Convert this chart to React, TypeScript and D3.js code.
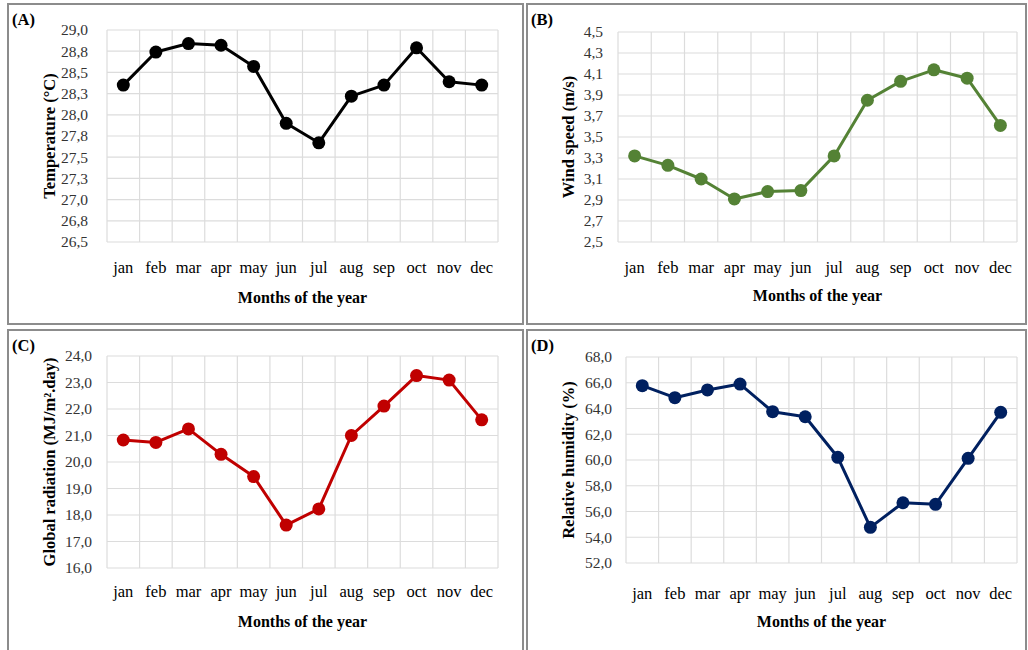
import { useEffect, useRef } from "react";
import * as d3 from "d3";

// Month categories shared by all four panels
const months = ["jan", "feb", "mar", "apr", "may", "jun", "jul", "aug", "sep", "oct", "nov", "dec"];

// Series values
const temperature = [28.35, 28.74, 28.84, 28.82, 28.57, 27.9, 27.67, 28.22, 28.35, 28.79, 28.39, 28.35];
const windSpeed = [3.32, 3.23, 3.1, 2.91, 2.98, 2.99, 3.32, 3.85, 4.03, 4.14, 4.06, 3.61];
const radiation = [20.83, 20.74, 21.25, 20.29, 19.45, 17.62, 18.23, 21.0, 22.11, 23.26, 23.09, 21.59];
const humidity = [65.77, 64.84, 65.44, 65.9, 63.75, 63.36, 60.21, 54.77, 56.68, 56.56, 60.13, 63.7];

// Y tick values
const tempTicks = [26.5, 26.75, 27, 27.25, 27.5, 27.75, 28, 28.25, 28.5, 28.75, 29];
const windTicks = [2.5, 2.7, 2.9, 3.1, 3.3, 3.5, 3.7, 3.9, 4.1, 4.3, 4.5];
const radTicks = [16, 17, 18, 19, 20, 21, 22, 23, 24];
const humTicks = [52, 54, 56, 58, 60, 62, 64, 66, 68];

const FONT = "'Liberation Serif', 'Times New Roman', serif";

type PanelProps = {
  tag: string;
  values: number[];
  ticks: number[];
  color: string;
  yTitle: string;
  frame: { x: number; y: number; w: number; h: number };
  plot: { x0: number; x1: number; y0: number; y1: number };
  yLabelX: number;
  yTitleX: number;
  xLabelY: number;
  xTitleY: number;
};

function Panel(props: PanelProps) {
  const ref = useRef<SVGGElement>(null);

  useEffect(() => {
    const { values, ticks, color, plot } = props;
    const g = d3.select(ref.current);
    g.selectAll("*").remove();

    const xScale = d3.scaleBand().domain(months).range([plot.x0, plot.x1]);
    const yScale = d3
      .scaleLinear()
      .domain([ticks[0], ticks[ticks.length - 1]])
      .range([plot.y1, plot.y0]);
    const fmt = (v: number) => v.toFixed(1).replace(".", ",");

    // frame
    g.append("rect")
      .attr("x", props.frame.x)
      .attr("y", props.frame.y)
      .attr("width", props.frame.w)
      .attr("height", props.frame.h)
      .attr("fill", "#fff")
      .attr("stroke", "#8c8c8c")
      .attr("stroke-width", 2);

    // horizontal gridlines
    g.append("g")
      .selectAll("line")
      .data(ticks)
      .join("line")
      .attr("x1", plot.x0)
      .attr("x2", plot.x1)
      .attr("y1", (d) => yScale(d))
      .attr("y2", (d) => yScale(d))
      .attr("stroke", "#dcdcdc")
      .attr("stroke-width", 1.2);

    // vertical gridlines at band edges
    const edges = months.map((m) => xScale(m) as number).concat([plot.x1]);
    g.append("g")
      .selectAll("line")
      .data(edges)
      .join("line")
      .attr("x1", (d) => d)
      .attr("x2", (d) => d)
      .attr("y1", plot.y0)
      .attr("y2", plot.y1)
      .attr("stroke", "#dcdcdc")
      .attr("stroke-width", 1.2);

    // y tick labels
    g.append("g")
      .selectAll("text")
      .data(ticks)
      .join("text")
      .attr("x", props.yLabelX)
      .attr("y", (d) => yScale(d))
      .attr("dy", "0.35em")
      .attr("text-anchor", "end")
      .attr("font-family", FONT)
      .attr("font-size", 15.5)
      .attr("fill", "#333")
      .text(fmt);

    // x tick labels
    g.append("g")
      .selectAll("text")
      .data(months)
      .join("text")
      .attr("x", (d) => (xScale(d) as number) + xScale.bandwidth() / 2)
      .attr("y", props.xLabelY)
      .attr("dy", "0.35em")
      .attr("text-anchor", "middle")
      .attr("font-family", FONT)
      .attr("font-size", 16.5)
      .attr("fill", "#000")
      .text((d) => d);

    // x title
    g.append("text")
      .attr("x", (plot.x0 + plot.x1) / 2)
      .attr("y", props.xTitleY)
      .attr("dy", "0.35em")
      .attr("text-anchor", "middle")
      .attr("font-family", FONT)
      .attr("font-weight", "bold")
      .attr("font-size", 16)
      .text("Months of the year");

    // y title
    g.append("text")
      .attr("transform", `translate(${props.yTitleX},${(plot.y0 + plot.y1) / 2}) rotate(-90)`)
      .attr("dy", "0.35em")
      .attr("text-anchor", "middle")
      .attr("font-family", FONT)
      .attr("font-weight", "bold")
      .attr("font-size", 16.5)
      .text(props.yTitle);

    // panel tag
    g.append("text")
      .attr("x", props.frame.x + 4)
      .attr("y", props.frame.y + 21)
      .attr("font-family", FONT)
      .attr("font-weight", "bold")
      .attr("font-size", 16.5)
      .text(props.tag);

    // series line
    const line = d3
      .line<number>()
      .x((_, i) => (xScale(months[i]) as number) + xScale.bandwidth() / 2)
      .y((d) => yScale(d));

    g.append("path")
      .datum(values)
      .attr("d", line)
      .attr("fill", "none")
      .attr("stroke", color)
      .attr("stroke-width", 3)
      .attr("stroke-linejoin", "round");

    g.append("g")
      .selectAll("circle")
      .data(values)
      .join("circle")
      .attr("cx", (_, i) => (xScale(months[i]) as number) + xScale.bandwidth() / 2)
      .attr("cy", (d) => yScale(d))
      .attr("r", 6.5)
      .attr("fill", color);
  }, [props]);

  return <g ref={ref} />;
}

export default function App() {
  return (
    <div style={{ position: "absolute", left: 0, top: 0 }}>
      <svg width={1028} height={650} style={{ display: "block", background: "#fff" }}>
        <Panel
          tag="(A)"
          values={temperature}
          ticks={tempTicks}
          color="#000000"
          yTitle="Temperature (°C)"
          frame={{ x: 8, y: 4, w: 515, h: 320 }}
          plot={{ x0: 107, x1: 498, y0: 30, y1: 242 }}
          yLabelX={88}
          yTitleX={49}
          xLabelY={267}
          xTitleY={297}
        />
        <Panel
          tag="(B)"
          values={windSpeed}
          ticks={windTicks}
          color="#548235"
          yTitle="Wind speed (m/s)"
          frame={{ x: 527, y: 4, w: 499, h: 320 }}
          plot={{ x0: 618, x1: 1017, y0: 32, y1: 242 }}
          yLabelX={603}
          yTitleX={568}
          xLabelY={267}
          xTitleY={295}
        />
        <Panel
          tag="(C)"
          values={radiation}
          ticks={radTicks}
          color="#c00000"
          yTitle="Global radiation (MJ/m².day)"
          frame={{ x: 8, y: 330, w: 515, h: 325 }}
          plot={{ x0: 107, x1: 498, y0: 356, y1: 568 }}
          yLabelX={92}
          yTitleX={49}
          xLabelY={591}
          xTitleY={621}
        />
        <Panel
          tag="(D)"
          values={humidity}
          ticks={humTicks}
          color="#002060"
          yTitle="Relative humidity (%)"
          frame={{ x: 527, y: 330, w: 499, h: 325 }}
          plot={{ x0: 626, x1: 1017, y0: 357, y1: 563 }}
          yLabelX={612}
          yTitleX={568}
          xLabelY={593}
          xTitleY={621}
        />
      </svg>
    </div>
  );
}
